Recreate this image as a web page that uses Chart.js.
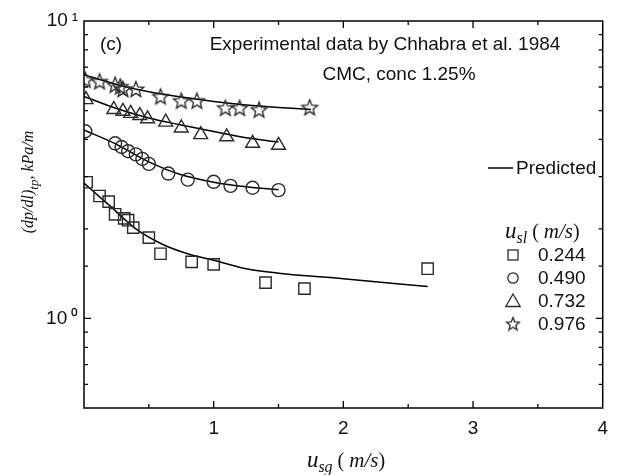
<!DOCTYPE html>
<html><head><meta charset="utf-8">
<script src="https://cdn.jsdelivr.net/npm/chart.js@4/dist/chart.umd.min.js"></script>
<style>html,body{margin:0;padding:0;background:#fff}#wrap{width:617px;height:475px;position:relative}</style>
</head><body><div id="wrap"><canvas id="c"></canvas></div>
<script>
// ---- data ----
const xTickValues = [0, 1, 2, 3, 4];
const yTickLabels = { 1: '10\u2009\u2070', 10: '10\u2009\u00B9' };
const legendLabels = ['0.244', '0.490', '0.732', '0.976'];

const sq_x = [0.02, 0.12, 0.19, 0.24, 0.31, 0.34, 0.38, 0.50, 0.59, 0.83, 1.00, 1.40, 1.70, 2.65];
const sq_y = [2.87, 2.58, 2.47, 2.24, 2.17, 2.14, 2.02, 1.87, 1.65, 1.55, 1.52, 1.32, 1.26, 1.47];
const ci_x = [0.01, 0.24, 0.29, 0.34, 0.40, 0.45, 0.50, 0.65, 0.80, 1.00, 1.13, 1.30, 1.50];
const ci_y = [4.26, 3.88, 3.77, 3.65, 3.56, 3.44, 3.31, 3.07, 2.93, 2.88, 2.79, 2.75, 2.70];
const tr_x = [0.015, 0.23, 0.30, 0.36, 0.43, 0.49, 0.63, 0.75, 0.90, 1.10, 1.30, 1.50];
const tr_y = [5.44, 5.04, 4.97, 4.89, 4.81, 4.69, 4.57, 4.37, 4.15, 4.08, 3.88, 3.82];
const st_x = [0.01, 0.12, 0.24, 0.28, 0.30, 0.40, 0.59, 0.75, 0.87, 1.09, 1.20, 1.35, 1.74];
const st_y = [6.35, 6.27, 6.11, 6.03, 5.91, 5.91, 5.58, 5.40, 5.40, 5.11, 5.11, 5.04, 5.13];

const pSq_x = [0, 0.2, 0.4, 0.6, 0.8, 1.0, 1.25, 1.5, 2.0, 2.65];
const pSq_y = [2.85, 2.39, 2.00, 1.78, 1.65, 1.57, 1.47, 1.42, 1.36, 1.28];
const pCi_x = [0, 0.25, 0.5, 0.75, 1.0, 1.25, 1.5];
const pCi_y = [4.30, 3.85, 3.36, 3.04, 2.87, 2.77, 2.71];
const pTr_x = [0, 0.25, 0.5, 0.75, 1.0, 1.25, 1.5];
const pTr_y = [5.58, 5.08, 4.72, 4.47, 4.25, 4.05, 3.92];
const pSt_x = [0, 0.25, 0.5, 0.75, 1.0, 1.25, 1.5, 1.75];
const pSt_y = [6.60, 6.12, 5.78, 5.55, 5.36, 5.22, 5.12, 5.04];

const pts = (xs, ys) => xs.map((x, i) => ({ x: x, y: ys[i] }));

const MARK = '#2a2a2a';
const SANS = '"Liberation Sans", Arial, sans-serif';
const SERIF = '"Liberation Serif", "Times New Roman", serif';

function starPath(ctx, cx, cy, R, r) {
  ctx.beginPath();
  for (let i = 0; i < 10; i++) {
    const a = -Math.PI / 2 + i * Math.PI / 5;
    const rad = i % 2 === 0 ? R : r;
    const px = cx + rad * Math.cos(a), py = cy + rad * Math.sin(a);
    if (i === 0) ctx.moveTo(px, py); else ctx.lineTo(px, py);
  }
  ctx.closePath();
}
function makeStar(size, R, r) {
  const cv = document.createElement('canvas');
  cv.width = size; cv.height = size;
  const c = cv.getContext('2d');
  c.strokeStyle = MARK; c.lineWidth = 1.35; c.lineJoin = 'miter';
  starPath(c, size / 2, size / 2 + 0.8, R, r);
  c.stroke();
  return cv;
}
const starImg = makeStar(20, 8.2, 3.6);
const starLeg = makeStar(16, 6.8, 3.0);

function lineDs(data) {
  return { type: 'scatter', data: data, showLine: true, borderColor: '#000', borderWidth: 1.5,
    pointRadius: 0, pointHoverRadius: 0, cubicInterpolationMode: 'monotone', fill: false, order: 1 };
}
function markDs(label, data, style, radius) {
  return { type: 'scatter', label: label, data: data, pointStyle: style, pointRadius: radius,
    pointHoverRadius: radius, borderColor: MARK, backgroundColor: 'rgba(0,0,0,0)', pointBorderWidth: 1.4, order: 0 };
}

function drawRich(ctx, parts, x, y, align) {
  let w = 0;
  parts.forEach(p => { ctx.font = p.f; p.w = ctx.measureText(p.t).width; w += p.w; });
  let cx = align === 'center' ? x - w / 2 : (align === 'right' ? x - w : x);
  ctx.textBaseline = 'alphabetic'; ctx.textAlign = 'left';
  parts.forEach(p => { ctx.font = p.f; ctx.fillText(p.t, cx, y + (p.dy || 0)); cx += p.w; });
}

const framePlugin = {
  id: 'frame',
  afterDraw(chart) {
    const ctx = chart.ctx, a = chart.chartArea, xs = chart.scales.x, ys = chart.scales.y;
    ctx.save();
    ctx.strokeStyle = '#000'; ctx.lineWidth = 1.5;
    ctx.strokeRect(a.left, a.top, a.right - a.left, a.bottom - a.top);
    ctx.lineWidth = 1.3;
    ctx.beginPath();
    [0.5, 1, 1.5, 2, 2.5, 3, 3.5].forEach(v => {
      const px = xs.getPixelForValue(v), L = Number.isInteger(v) ? 7 : 4;
      ctx.moveTo(px, a.bottom); ctx.lineTo(px, a.bottom - L);
      ctx.moveTo(px, a.top); ctx.lineTo(px, a.top + L);
    });
    ys.ticks.forEach(t => {
      const v = t.value; if (v <= 0.5 || v >= 10) return;
      const py = ys.getPixelForValue(v), L = (v === 1) ? 7 : 4;
      ctx.moveTo(a.left, py); ctx.lineTo(a.left + L, py);
      ctx.moveTo(a.right, py); ctx.lineTo(a.right - L, py);
    });
    ctx.stroke();

    ctx.fillStyle = '#111';
    ctx.font = '19px ' + SANS; ctx.textBaseline = 'middle'; ctx.textAlign = 'left';
    ctx.fillText('(c)', 100, 45);
    ctx.textAlign = 'center';
    ctx.fillText('Experimental data by Chhabra et al. 1984', 385, 45);
    ctx.fillText('CMC, conc 1.25%', 399, 75);

    ctx.strokeStyle = '#000'; ctx.lineWidth = 1.5;
    ctx.beginPath(); ctx.moveTo(488, 168); ctx.lineTo(513, 168); ctx.stroke();
    ctx.textAlign = 'left'; ctx.textBaseline = 'middle';
    ctx.fillText('Predicted', 516, 169);

    drawRich(ctx, [
      { t: 'u', f: 'italic 23px ' + SERIF },
      { t: 'sl', f: 'italic 16px ' + SERIF, dy: 5 },
      { t: ' ( ', f: '20px ' + SERIF },
      { t: 'm/s', f: 'italic 21px ' + SERIF },
      { t: ')', f: '20px ' + SERIF }
    ], 505, 238, 'left');

    const rows = [255, 278, 301, 324];
    ctx.strokeStyle = MARK; ctx.lineWidth = 1.3;
    const lx = 513;
    ctx.strokeRect(lx - 5, rows[0] - 5, 10, 10);
    ctx.beginPath(); ctx.arc(lx, rows[1], 5.2, 0, Math.PI * 2); ctx.stroke();
    ctx.beginPath(); ctx.moveTo(lx, rows[2] - 7); ctx.lineTo(lx + 7.2, rows[2] + 5.5); ctx.lineTo(lx - 7.2, rows[2] + 5.5); ctx.closePath(); ctx.stroke();
    ctx.drawImage(starLeg, lx - 8, rows[3] - 8.5);
    ctx.fillStyle = '#111'; ctx.font = '19px ' + SANS; ctx.textAlign = 'left'; ctx.textBaseline = 'middle';
    legendLabels.forEach((s, i) => ctx.fillText(s, 538, rows[i] + 1));

    drawRich(ctx, [
      { t: 'u', f: 'italic 23px ' + SERIF },
      { t: 'sg', f: 'italic 16px ' + SERIF, dy: 5 },
      { t: ' ( ', f: '20px ' + SERIF },
      { t: 'm/s', f: 'italic 21px ' + SERIF },
      { t: ')', f: '20px ' + SERIF }
    ], 346, 467, 'center');

    ctx.save();
    ctx.translate(33, 182);
    ctx.rotate(-Math.PI / 2);
    drawRich(ctx, [
      { t: '(dp/dl)', f: 'italic 16px ' + SERIF },
      { t: 'tp', f: 'italic 13px ' + SERIF, dy: 5 },
      { t: ', kPa/m', f: 'italic 16px ' + SERIF }
    ], 0, 0, 'center');
    ctx.restore();
    ctx.restore();
  }
};

new Chart(document.getElementById('c'), {
  type: 'scatter',
  data: {
    datasets: [
      markDs('0.244', pts(sq_x, sq_y), 'rect', 8),
      markDs('0.490', pts(ci_x, ci_y), 'circle', 6.5),
      markDs('0.732', pts(tr_x, tr_y), 'triangle', 8),
      markDs('0.976', pts(st_x, st_y), starImg, 10),
      lineDs(pts(pSq_x, pSq_y)),
      lineDs(pts(pCi_x, pCi_y)),
      lineDs(pts(pTr_x, pTr_y)),
      lineDs(pts(pSt_x, pSt_y))
    ]
  },
  options: {
    responsive: true, maintainAspectRatio: false, animation: false,
    layout: { padding: { top: 21, right: 9, left: 0, bottom: 0 } },
    plugins: { legend: { display: false }, tooltip: { enabled: false } },
    scales: {
      x: {
        type: 'linear', min: 0, max: 4,
        afterBuildTicks: s => { s.ticks = xTickValues.map(v => ({ value: v })); },
        afterFit: s => { s.height = 67; },
        grid: { display: false, drawTicks: false }, border: { display: false },
        ticks: { padding: 9, color: '#111', font: { family: SANS, size: 19 },
          callback: v => (v === 0 ? '' : String(v)) }
      },
      y: {
        type: 'logarithmic', min: 0.5, max: 10,
        afterFit: s => { s.width = 84; },
        grid: { display: false, drawTicks: false }, border: { display: false },
        ticks: { padding: 6, autoSkip: false, color: '#111', font: { family: SANS, size: 19 },
          callback: v => (yTickLabels[v] || '') }
      }
    }
  },
  plugins: [framePlugin]
});
</script></body></html>
